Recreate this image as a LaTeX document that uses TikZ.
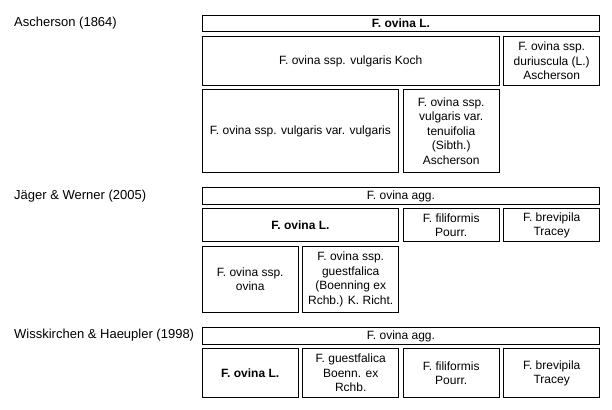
\documentclass[tikz,border=0pt]{standalone}
\usepackage{fontspec}
\setmainfont{Liberation Sans}

\begin{document}
\begin{tikzpicture}[x=1pt,y=-1pt,
  taxon/.style={draw, line width=0.8pt, anchor=north west, inner sep=0pt,
    align=center, font=\fontsize{12}{14.5}\selectfont},
  author/.style={anchor=west, inner sep=0pt, font=\fontsize{13}{15}\selectfont},
  w1/.style={minimum width=96.2pt},
  w2/.style={minimum width=196.7pt},
  w3/.style={minimum width=297.2pt},
  w4/.style={minimum width=397.7pt}]
\useasboundingbox (0,0) rectangle (612,409);

% Ascherson (1864)
\node[taxon, w4, minimum height=16.5pt] (a-ovina) at (201.7,15) {\textbf{F. ovina L.}};
\node[taxon, w3, minimum height=49.3pt] (a-vulg) at (201.7,36) {F. ovina ssp. vulgaris Koch};
\node[taxon, w1, minimum height=49.3pt] (a-duri) at (503.2,36) {F. ovina ssp.\\duriuscula (L.)\\Ascherson};
\node[taxon, w2, minimum height=82.4pt] (a-vv) at (201.7,89.3) {F. ovina ssp. vulgaris var. vulgaris};
\node[taxon, w1, minimum height=82.4pt] (a-tenui) at (402.7,89.3) {F. ovina ssp.\\vulgaris var.\\tenuifolia\\(Sibth.)\\Ascherson};
\node[author] (asch) at (14,23.2) {Ascherson (1864)};

% Jaeger & Werner (2005)
\node[taxon, w4, minimum height=17pt] (j-agg) at (201.7,187.3) {F. ovina agg.};
\node[taxon, w2, minimum height=33pt] (j-ovina) at (201.7,208.3) {\textbf{F. ovina L.}};
\node[taxon, w1, minimum height=33pt] (j-fili) at (402.7,208.3) {F. filiformis\\Pourr.};
\node[taxon, w1, minimum height=33pt] (j-brev) at (503.2,208.3) {F. brevipila\\Tracey};
\node[taxon, w1, minimum height=65.4pt] (j-ssp) at (201.7,246.3) {F. ovina ssp.\\ovina};
\node[taxon, w1, minimum height=65.4pt] (j-guest) at (302.2,246.3) {F. ovina ssp.\\guestfalica\\(Boenning ex\\Rchb.) K. Richt.};
\node[author] (jaeger) at (14,195.8) {Jäger \& Werner (2005)};

% Wisskirchen & Haeupler (1998)
\node[taxon, w4, minimum height=16.7pt] (w-agg) at (201.7,327.3) {F. ovina agg.};
\node[taxon, w1, minimum height=49pt] (w-ovina) at (201.7,348.3) {\textbf{F. ovina L.}};
\node[taxon, w1, minimum height=49pt] (w-guest) at (302.2,348.3) {F. guestfalica\\Boenn. ex\\Rchb.};
\node[taxon, w1, minimum height=49pt] (w-fili) at (402.7,348.3) {F. filiformis\\Pourr.};
\node[taxon, w1, minimum height=49pt] (w-brev) at (503.2,348.3) {F. brevipila\\Tracey};
\node[author] (wiss) at (14,335.6) {Wisskirchen \& Haeupler (1998)};

\end{tikzpicture}
\end{document}
